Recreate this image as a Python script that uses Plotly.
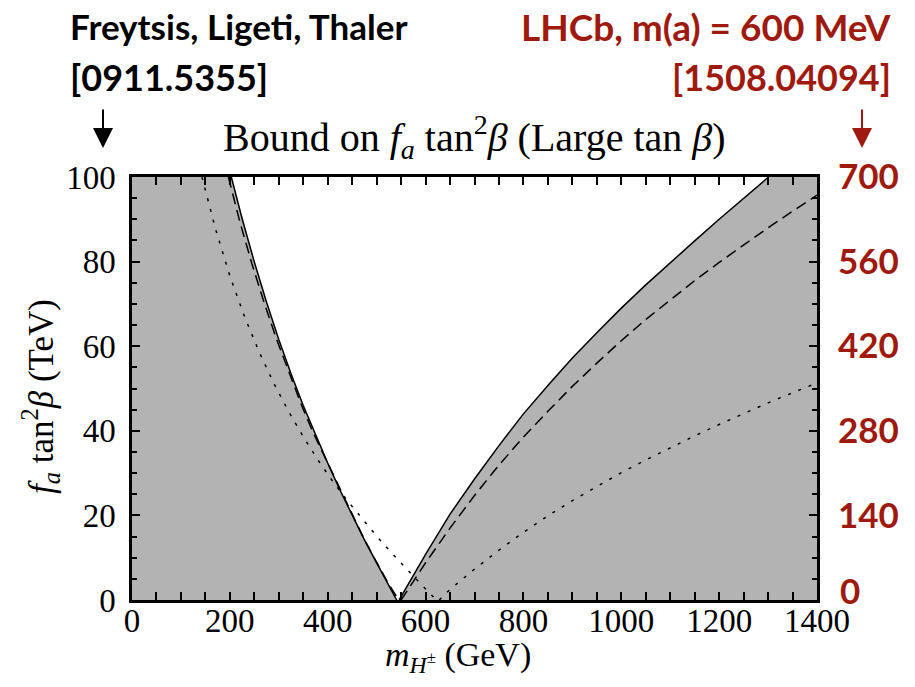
import plotly.graph_objects as go

# ---- data (x in GeV, y in TeV) ----
solid_left_x = [203, 225, 250, 275, 300, 325, 350, 375, 400, 425, 450, 475, 500, 525, 541]
solid_left_y = [100, 90.2, 79.9, 70.4, 61.6, 53.5, 46.0, 39.0, 32.4, 26.0, 19.9, 14.2, 8.8, 3.5, 0]

solid_right_x = [546, 600, 650, 700, 750, 800, 850, 900, 950, 1000, 1050, 1100, 1150, 1200, 1250, 1301]
solid_right_y = [0, 10.8, 20.3, 28.6, 36.5, 44.0, 50.7, 57.2, 63.2, 69.0, 74.5, 79.8, 84.9, 90.0, 95.0, 100]

dashed_left_x = [197, 220, 245, 270, 295, 320, 345, 370, 400, 425, 450, 475, 500, 525, 545]
dashed_left_y = [100, 89.6, 79.5, 70.3, 61.8, 54.0, 46.5, 39.6, 32.4, 26.0, 20.0, 14.3, 8.9, 3.7, 0]

dashed_right_x = [550, 600, 650, 700, 750, 800, 850, 900, 950, 1000, 1050, 1100, 1150, 1200, 1250, 1300, 1350, 1400]
dashed_right_y = [0, 8.8, 17.0, 24.7, 31.9, 38.5, 44.6, 50.5, 56.0, 61.3, 66.3, 71.0, 75.5, 79.8, 84.0, 88.0, 91.9, 95.7]

dotted_left_x = [143, 170, 200, 230, 260, 290, 320, 350, 380, 410, 440, 470, 500, 530, 560, 590, 622]
dotted_left_y = [100, 88.0, 76.6, 67.0, 58.6, 51.2, 44.6, 38.6, 33.1, 28.1, 23.5, 19.2, 15.1, 11.2, 7.4, 3.8, 0]

dotted_right_x = [628, 650, 700, 750, 800, 850, 900, 950, 1000, 1050, 1100, 1150, 1200, 1250, 1300, 1350, 1400]
dotted_right_y = [0, 2.5, 7.3, 11.8, 16.0, 19.9, 23.5, 26.9, 30.1, 33.1, 36.0, 38.8, 41.5, 44.1, 46.6, 49.0, 51.3]

x_range = [0, 1400]
y_range = [0, 100]
y2_range = [0, 700]
x_ticks = [0, 200, 400, 600, 800, 1000, 1200, 1400]
y_ticks = [0, 20, 40, 60, 80, 100]
y2_ticks = [140, 280, 420, 560, 700]   # the "0" label is placed separately (raised, as in the reference)

GRAY = "#b3b3b3"
RED = "#9e1a0e"
SERIF = "Liberation Serif"
SANS = "Lato"

fig = go.Figure()

# excluded (shaded) regions
fig.add_trace(go.Scatter(
    x=[x_range[0], x_range[0]] + solid_left_x,
    y=[y_range[0], y_range[1]] + solid_left_y,
    fill="toself", fillcolor=GRAY, mode="lines", line=dict(width=0),
    showlegend=False, hoverinfo="skip"))
fig.add_trace(go.Scatter(
    x=solid_right_x + [x_range[1], x_range[1]],
    y=solid_right_y + [y_range[1], y_range[0]],
    fill="toself", fillcolor=GRAY, mode="lines", line=dict(width=0),
    showlegend=False, hoverinfo="skip"))

line_styles = [
    (solid_left_x, solid_left_y, "solid"),
    (solid_right_x, solid_right_y, "solid"),
    (dashed_left_x, dashed_left_y, "11px,6px"),
    (dashed_right_x, dashed_right_y, "11px,6px"),
    (dotted_left_x, dotted_left_y, "3px,8px"),
    (dotted_right_x, dotted_right_y, "3px,8px"),
]
for xs, ys, dash in line_styles:
    fig.add_trace(go.Scatter(x=xs, y=ys, mode="lines",
                             line=dict(color="black", width=1.5, dash=dash),
                             showlegend=False, hoverinfo="skip"))

# dummy trace to activate the right axis
fig.add_trace(go.Scatter(x=[None], y=[None], yaxis="y2", showlegend=False, hoverinfo="skip"))

fig.update_layout(
    width=915, height=687,
    margin=dict(l=132, r=98, t=177, b=87, autoexpand=False),
    plot_bgcolor="white", paper_bgcolor="white",
    xaxis=dict(range=x_range, tickvals=x_ticks, showgrid=False, zeroline=False, automargin=False,
               showline=True, linecolor="black", linewidth=2.5, mirror="allticks",
               ticks="inside", ticklen=8, tickwidth=2, tickcolor="black",
               minor=dict(dtick=50, ticks="inside", ticklen=5, tickwidth=1.5, tickcolor="black"),
               tickfont=dict(family=SERIF, size=33, color="black"), ticklabelstandoff=-10),
    yaxis=dict(range=y_range, tickvals=y_ticks, showgrid=False, zeroline=False, automargin=False,
               showline=True, linecolor="black", linewidth=2.5, mirror="allticks",
               ticks="inside", ticklen=8, tickwidth=2, tickcolor="black",
               minor=dict(dtick=5, ticks="inside", ticklen=5, tickwidth=1.5, tickcolor="black"),
               tickfont=dict(family=SERIF, size=33, color="black"), ticklabelstandoff=7),
    yaxis2=dict(range=y2_range, tickvals=y2_ticks, overlaying="y", side="right", automargin=False,
                showgrid=False, zeroline=False, showline=False, ticks="",
                tickfont=dict(family=SANS, size=35, color=RED, weight="bold"),
                ticklabelstandoff=20),
)

annotations = [
    dict(x=0.5, y=(600 - 137) / 423, xref="paper", yref="paper", showarrow=False,
         text="Bound on <i>f<sub>a</sub></i> tan<sup>2</sup><i>β</i> (Large tan <i>β</i>)",
         font=dict(family=SERIF, size=40, color="black"), xanchor="center", yanchor="middle"),
    dict(x=(458 - 132) / 685, y=(600 - 657) / 423, xref="paper", yref="paper", showarrow=False,
         text="<i>m<sub>H<sup>±</sup></sub></i> (GeV)",
         font=dict(family=SERIF, size=34, color="black"), xanchor="center", yanchor="middle"),
    dict(x=(40 - 132) / 685, y=(600 - 397) / 423, xref="paper", yref="paper", showarrow=False,
         text="<i>f<sub>a</sub></i> tan<sup>2</sup><i>β</i> (TeV)", textangle=-90,
         font=dict(family=SERIF, size=35, color="black"), xanchor="center", yanchor="middle"),
    dict(x=(68 - 132) / 685, y=(600 - 26) / 423, xref="paper", yref="paper", showarrow=False,
         text="Freytsis, Ligeti, Thaler", xanchor="left", yanchor="middle",
         font=dict(family=SANS, size=35, color="black", weight="bold")),
    dict(x=(68 - 132) / 685, y=(600 - 77) / 423, xref="paper", yref="paper", showarrow=False,
         text="[0911.5355]", xanchor="left", yanchor="middle",
         font=dict(family=SANS, size=36, color="black", weight="bold")),
    dict(x=(893 - 132) / 685, y=(600 - 26) / 423, xref="paper", yref="paper", showarrow=False,
         text="LHCb, m(a) = 600 MeV", xanchor="right", yanchor="middle",
         font=dict(family=SANS, size=37, color=RED, weight="bold")),
    dict(x=(893 - 132) / 685, y=(600 - 77) / 423, xref="paper", yref="paper", showarrow=False,
         text="[1508.04094]", xanchor="right", yanchor="middle",
         font=dict(family=SANS, size=36, color=RED, weight="bold")),
    dict(x=(838 - 132) / 685, y=(600 - 590) / 423, xref="paper", yref="paper", showarrow=False,
         text="0", xanchor="left", yanchor="middle",
         font=dict(family=SANS, size=35, color=RED, weight="bold")),
    dict(x=(103 - 132) / 685, y=(600 - 148) / 423, xref="paper", yref="paper", showarrow=True,
         text="", ax=0, ay=-40, arrowhead=2, arrowsize=2, arrowwidth=2, arrowcolor="black"),
    dict(x=(862 - 132) / 685, y=(600 - 148) / 423, xref="paper", yref="paper", showarrow=True,
         text="", ax=0, ay=-40, arrowhead=2, arrowsize=2, arrowwidth=2, arrowcolor=RED),
]
fig.update_layout(annotations=annotations)

fig.write_html("out.html", config={"displayModeBar": False},
               post_script="document.body.style.margin='0';document.body.style.overflow='hidden';")
